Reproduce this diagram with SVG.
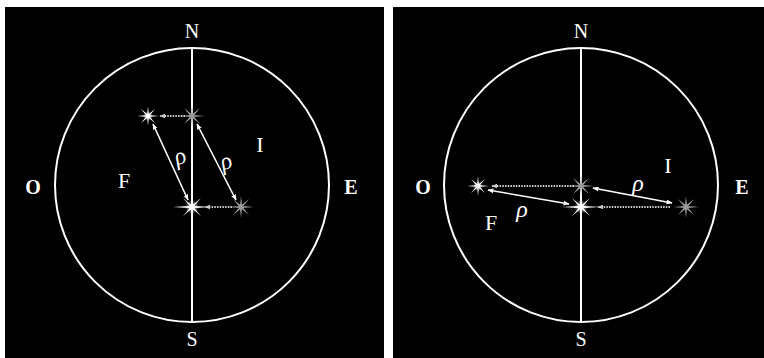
<svg xmlns="http://www.w3.org/2000/svg" width="764" height="358" viewBox="0 0 764 358">
<defs>
<style>
.bg{fill:#000}
.circ{fill:none;stroke:#fff;stroke-width:2}
.axis{stroke:#fff;stroke-width:2}
.lbl{font-family:"Liberation Serif",serif;font-size:20px;fill:#fff;text-anchor:middle}
.big{font-size:22px}
.bold{font-weight:bold}
.rho{font-family:"Liberation Serif",serif;font-style:italic;font-size:24px;fill:#fff;text-anchor:middle}
.dbl{stroke:#fff;stroke-width:1.6;fill:none;marker-start:url(#hs);marker-end:url(#he)}
.dot{stroke:#ccc;stroke-width:2;stroke-dasharray:1.5 1.2;fill:none;marker-end:url(#hd)}
</style>
<marker id="he" viewBox="0 0 10 10" refX="9" refY="5" markerWidth="6" markerHeight="6" orient="auto" markerUnits="userSpaceOnUse"><path d="M0,1 L10,5 L0,9 Z" fill="#fff"/></marker>
<marker id="hs" viewBox="0 0 10 10" refX="1" refY="5" markerWidth="6" markerHeight="6" orient="auto" markerUnits="userSpaceOnUse"><path d="M10,1 L0,5 L10,9 Z" fill="#fff"/></marker>
<marker id="hd" viewBox="0 0 10 10" refX="9" refY="5" markerWidth="6" markerHeight="6" orient="auto" markerUnits="userSpaceOnUse"><path d="M0,1 L10,5 L0,9 Z" fill="#ccc"/></marker>
<radialGradient id="glow"><stop offset="0" stop-color="#fff" stop-opacity="0.9"/><stop offset="1" stop-color="#fff" stop-opacity="0"/></radialGradient>
<g id="starBig">
<circle r="7" fill="url(#glow)"/>
<path d="M-19,0 L0,-1.3 L19,0 L0,1.3 Z M0,-15 L1.3,0 L0,15 L-1.3,0 Z M-9,-9 L0.8,-0.8 L9,9 L-0.8,0.8 Z M9,-9 L0.8,0.8 L-9,9 L-0.8,-0.8 Z" fill="#fff"/>
<circle r="2.8" fill="#fff"/>
</g>
<g id="starSmall">
<circle r="5" fill="url(#glow)"/>
<path d="M-11,0 L0,-1 L11,0 L0,1 Z M0,-10 L1,0 L0,10 L-1,0 Z M-7,-7 L0.7,-0.7 L7,7 L-0.7,0.7 Z M7,-7 L0.7,0.7 L-7,7 L-0.7,-0.7 Z" fill="#fff"/>
<circle r="2" fill="#fff"/>
</g>
<g id="starGrey">
<path d="M-13,0 L0,-1.1 L13,0 L0,1.1 Z M0,-11 L1.1,0 L0,11 L-1.1,0 Z M-8,-8 L0.8,-0.8 L8,8 L-0.8,0.8 Z M8,-8 L0.8,0.8 L-8,8 L-0.8,-0.8 Z" fill="#aaa"/>
<circle r="2.4" fill="#999"/>
</g>
</defs>
<rect x="0" y="0" width="764" height="358" fill="#fff"/>
<rect class="bg" x="5" y="7" width="379" height="351"/>
<rect class="bg" x="393" y="7" width="371" height="351"/>

<g id="panel-left">
<circle class="circ" cx="192" cy="185" r="137"/>
<line class="axis" x1="192" y1="48" x2="192" y2="322"/>
<text class="lbl" x="192" y="38">N</text>
<text class="lbl" x="192" y="346">S</text>
<text class="lbl bold" x="33" y="194">O</text>
<text class="lbl bold" x="351" y="194">E</text>
<text class="lbl big" x="124" y="188">F</text>
<text class="lbl big" x="260" y="152">I</text>
</g>
<g id="stars-left">
<use href="#starSmall" x="148" y="116"/>
<use href="#starGrey" x="192" y="116"/>
<use href="#starBig" x="192" y="207"/>
<use href="#starGrey" x="241" y="207"/>
</g>

<g id="panel-right">
<circle class="circ" cx="581" cy="185" r="137"/>
<line class="axis" x1="581" y1="48" x2="581" y2="322"/>
<text class="lbl" x="581" y="38">N</text>
<text class="lbl" x="581" y="346">S</text>
<text class="lbl bold" x="423" y="194">O</text>
<text class="lbl bold" x="742" y="194">E</text>
<text class="lbl big" x="491" y="230">F</text>
<text class="lbl big" x="668" y="173">I</text>
</g>
<g id="stars-right">
<use href="#starSmall" x="478" y="186"/>
<use href="#starGrey" x="581" y="186"/>
<use href="#starBig" x="581" y="207"/>
<use href="#starGrey" x="686" y="207"/>
</g>

<g id="connectors">
<line class="dot" x1="185" y1="116" x2="160" y2="116"/>
<line class="dot" x1="232" y1="207" x2="205" y2="207"/>
<line class="dbl" x1="153" y1="124" x2="188" y2="200"/>
<line class="dbl" x1="197" y1="124" x2="236" y2="200"/>
<line class="dot" x1="574" y1="186" x2="492" y2="186"/>
<line class="dot" x1="670" y1="207" x2="598" y2="207"/>
<line class="dbl" x1="488" y1="190" x2="569" y2="204"/>
<line class="dbl" x1="593" y1="188" x2="672" y2="203"/>
</g>
<g id="labels-rho">
<text class="rho" x="180" y="164" transform="rotate(-20 180 157)">ρ</text>
<text class="rho" x="226" y="169" transform="rotate(-20 226 162)">ρ</text>
<text class="rho" x="522" y="217">ρ</text>
<text class="rho" x="638" y="191">ρ</text>
</g>
</svg>
